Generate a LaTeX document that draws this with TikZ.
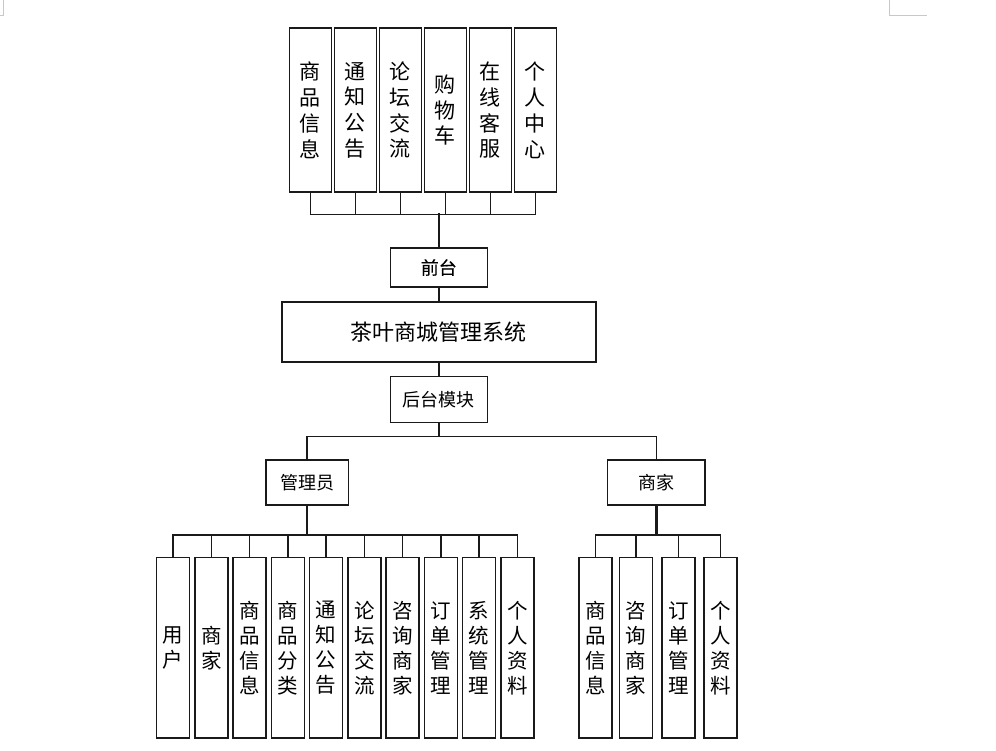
\documentclass[tikz,border=0pt]{standalone}
\usepackage{fontspec}
\setmainfont{Noto Sans CJK SC}
\newfontfamily\semifont[FakeBold=0.6]{Noto Sans CJK SC}
\usetikzlibrary{positioning,calc}
\definecolor{ln}{HTML}{1A1A1A}
\definecolor{pgmark}{HTML}{C8C8C8}
\tikzset{
  box/.style  ={draw=ln, rectangle, line width=1.6pt, inner sep=0pt, anchor=north west, align=center},
  colt/.style ={box, minimum width=42pt, minimum height=164pt, font=\fontsize{21}{25.7}\selectfont},
  cola/.style ={box, minimum width=33pt, minimum height=180.5pt, font=\fontsize{20.5}{25}\selectfont},
  lbl/.style  ={box, font=\fontsize{18}{20}\selectfont},
  lnk/.style  ={draw=ln, line width=1.6pt},
  trunk/.style={lnk, line width=2.4pt},
}

\begin{document}
\begin{tikzpicture}[x=1pt,y=-1pt]
\useasboundingbox (0,0) rectangle (996,751);
% page corner marks
\draw[pgmark, line width=1pt] (3,0) -- (3,16) -- (0,16);
\draw[pgmark, line width=1pt] (889.5,0) -- (889.5,16) -- (927,16);
% front-end modules
\node[colt] (t1) at (288.5,27.5) {商\\品\\信\\息};
\node[colt] (t2) at (333.5,27.5) {通\\知\\公\\告};
\node[colt] (t3) at (378.5,27.5) {论\\坛\\交\\流};
\node[colt] (t4) at (423.5,27.5) {购\\物\\车};
\node[colt] (t5) at (468.5,27.5) {在\\线\\客\\服};
\node[colt] (t6) at (513.5,27.5) {个\\人\\中\\心};
\node[lbl, minimum width=97pt, minimum height=38.5pt] (qt) at (389.5,247.5) {\semifont 前台};
\node[box, minimum width=314pt, minimum height=60pt,
      font=\fontsize{22}{24}\selectfont] (sys) at (281,301) {茶叶商城管理系统};
\node[lbl, minimum width=97pt, minimum height=46pt] (ht) at (389.5,375.7) {后台模块};
\node[lbl, minimum width=82.7pt, minimum height=45.3pt] (gly) at (265,459) {管理员};
\node[lbl, minimum width=97.6pt, minimum height=45.3pt] (sj) at (606.7,459) {商家};
% admin modules
\node[cola] (a1) at (155.7,556.7) {用\\户};
\node[cola] (a2) at (194,556.7) {商\\家};
\node[cola] (a3) at (232.2,556.7) {商\\品\\信\\息};
\node[cola] (a4) at (270.5,556.7) {商\\品\\分\\类};
\node[cola] (a5) at (308.7,556.7) {通\\知\\公\\告};
\node[cola] (a6) at (347,556.7) {论\\坛\\交\\流};
\node[cola] (a7) at (385.2,556.7) {咨\\询\\商\\家};
\node[cola] (a8) at (423.5,556.7) {订\\单\\管\\理};
\node[cola] (a9) at (461.7,556.7) {系\\统\\管\\理};
\node[cola] (a10) at (500,556.7) {个\\人\\资\\料};
% merchant modules
\node[cola] (s1) at (578.3,556.7) {商\\品\\信\\息};
\node[cola] (s2) at (618.7,556.7) {咨\\询\\商\\家};
\node[cola] (s3) at (661,556.7) {订\\单\\管\\理};
\node[cola] (s4) at (703.3,556.7) {个\\人\\资\\料};
% connectors
\foreach \n in {t1,t2,t3,t4,t5,t6}
  \draw[lnk] (\n.south) -- ++(0,21.6) -| (qt.north);
\draw[trunk] (qt.north) -- ++(0,-34.2);
\draw[lnk] (qt.south) -- (sys.north);
\draw[lnk] (sys.south) -- (ht.north);
\draw[lnk] (ht.south) -- ++(0,13.3) -| (gly.north);
\draw[lnk] (ht.south) -- ++(0,13.3) -| (sj.north);
\foreach \n in {a1,a2,a3,a4,a5,a6,a7,a8,a9,a10}
  \draw[lnk] (gly.south) -- ++(0,29) -| (\n.north);
\draw[trunk] (gly.south) -- ++(0,29);
\foreach \n in {s1,s2,s3,s4}
  \draw[lnk] (sj.south) -- ++(0,29) -| (\n.north);
\draw[trunk] (sj.south) -- ++(0,29);
\end{tikzpicture}
\end{document}
